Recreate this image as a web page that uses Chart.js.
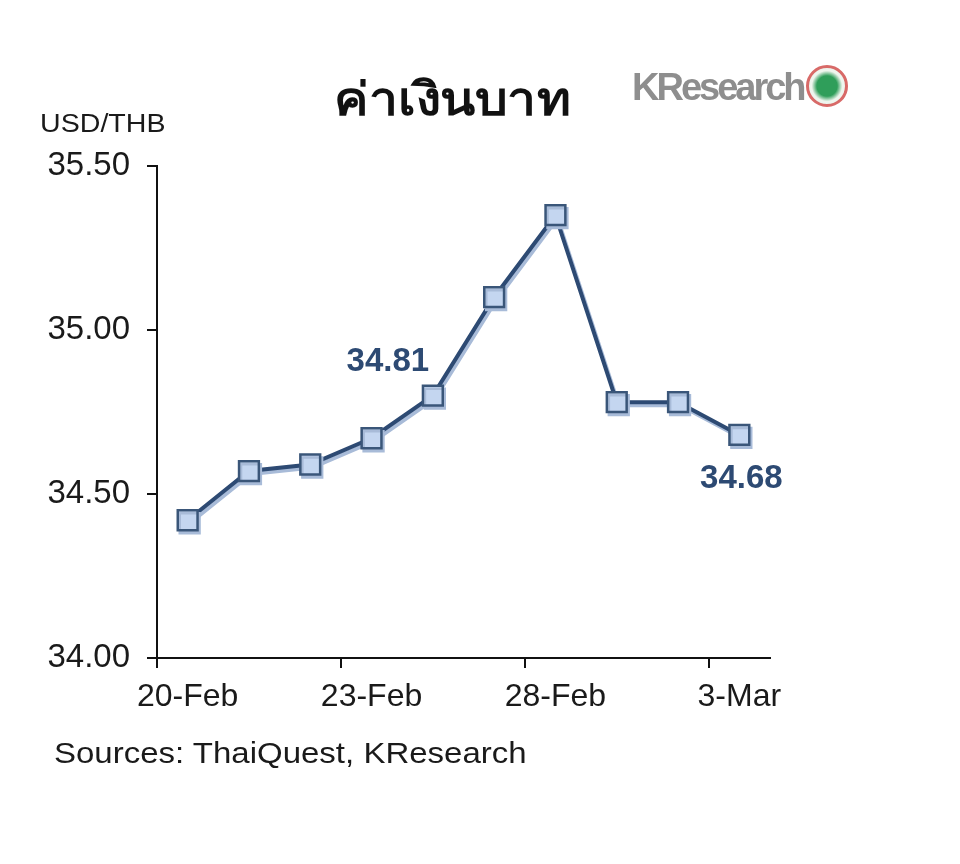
<!DOCTYPE html>
<html>
<head>
<meta charset="utf-8">
<script src="https://cdn.jsdelivr.net/npm/chart.js@4.4.0/dist/chart.umd.min.js"></script>
<style>
  html, body { margin: 0; padding: 0; background: #fff; }
  #wrap { position: relative; width: 960px; height: 864px; font-family: "Liberation Sans", Arial, sans-serif; }
  #chart { position: absolute; left: 0; top: 0; }
  .txt { position: absolute; white-space: nowrap; line-height: 1; }
  #title { left: 452px; top: 74px; font-size: 46px; font-weight: bold; color: #111; transform: translateX(-50%) scaleX(1.12); font-family: "Noto Sans", "DejaVu Sans", sans-serif; }
  #unit { left: 40px; top: 110px; font-size: 26px; color: #1a1a1a; transform: scaleX(1.1); transform-origin: left top; }
  #source { left: 54px; top: 738px; font-size: 30px; color: #1a1a1a; transform: scaleX(1.1); transform-origin: left top; }
  #logo { left: 632px; top: 65px; font-size: 38px; font-weight: bold; color: #8e8e8e; letter-spacing: -3px; }
  #logo .ic { display: inline-block; width: 42px; height: 42px; border: 3px solid #d86a68; border-radius: 50%; background: radial-gradient(circle, #2f9e5a 0, #2f9e5a 40%, #eef5ee 60%); vertical-align: -7px; margin-left: 2px; box-sizing: border-box; }
</style>
</head>
<body>
<div id="wrap">
  <canvas id="chart" width="960" height="864"></canvas>
  <div class="txt" id="title">ค่าเงินบาท</div>
  <div class="txt" id="unit">USD/THB</div>
  <div class="txt" id="logo">KResearch<span class="ic"></span></div>
  <div class="txt" id="source">Sources: ThaiQuest, KResearch</div>
</div>
<script>
const dates = ['20-Feb', '21-Feb', '22-Feb', '23-Feb', '24-Feb', '27-Feb', '28-Feb', '1-Mar', '2-Mar', '3-Mar'];
const rates = [34.42, 34.57, 34.59, 34.67, 34.80, 35.10, 35.35, 34.78, 34.78, 34.68];
const shownLabels = [0, 3, 6, 9];
const callouts = [
  { index: 4, text: '34.81', dx: -45, dy: -34 },
  { index: 9, text: '34.68', dx: 2, dy: 44 }
];

const navy = '#2d4a73';

// light shadow under the line, like the excel look
const shadowPlugin = {
  id: 'shadowLine',
  beforeDatasetDraw(chart) {
    const ctx = chart.ctx;
    ctx.save();
    ctx.shadowColor = '#a8bbd8';
    ctx.shadowOffsetX = 2;
    ctx.shadowOffsetY = 3;
    ctx.shadowBlur = 0;
  },
  afterDatasetDraw(chart) {
    chart.ctx.restore();
  }
};

const calloutPlugin = {
  id: 'callouts',
  afterDatasetsDraw(chart) {
    const ctx = chart.ctx;
    const xs = chart.scales.x, ys = chart.scales.y;
    ctx.save();
    ctx.font = 'bold 33px "Liberation Sans", Arial, sans-serif';
    ctx.fillStyle = navy;
    ctx.textAlign = 'center';
    ctx.textBaseline = 'middle';
    callouts.forEach(c => {
      const x = xs.getPixelForValue(c.index);
      const y = ys.getPixelForValue(rates[c.index]);
      ctx.fillText(c.text, x + c.dx, y + c.dy);
    });
    ctx.restore();
  }
};

new Chart(document.getElementById('chart'), {
  type: 'line',
  data: {
    labels: dates,
    datasets: [{
      data: rates,
      borderColor: navy,
      borderWidth: 4,
      pointStyle: 'rect',
      pointRadius: 14,
      pointBackgroundColor: '#c4d6f0',
      pointBorderColor: '#3a5679',
      pointBorderWidth: 2.5,
      tension: 0
    }]
  },
  options: {
    responsive: false,
    animation: false,
    events: [],
    layout: { padding: { left: 0, right: 190, top: 166, bottom: 0 } },
    plugins: { legend: { display: false }, tooltip: { enabled: false } },
    scales: {
      x: {
        offset: true,
        afterFit(scale) { scale.height = 864 - 658; },
        grid: {
          offset: true,
          drawOnChartArea: false,
          tickLength: 10,
          lineWidth: 2,
          color: ctx => (ctx.index % 3 === 0 ? '#111' : 'rgba(0,0,0,0)')
        },
        border: { display: true, color: '#111', width: 2 },
        ticks: {
          autoSkip: false,
          maxRotation: 0,
          padding: 10,
          color: '#1a1a1a',
          font: { size: 32, family: '"Liberation Sans", Arial, sans-serif' },
          callback: (v, i) => (shownLabels.includes(i) ? dates[i] : '')
        }
      },
      y: {
        min: 34,
        max: 35.5,
        afterFit(scale) { scale.width = 157; },
        grid: { drawOnChartArea: false, tickLength: 10, lineWidth: 2, color: '#111' },
        border: { display: true, color: '#111', width: 2 },
        ticks: {
          stepSize: 0.5,
          padding: 17,
          color: '#1a1a1a',
          font: { size: 33, family: '"Liberation Sans", Arial, sans-serif' },
          callback: v => v.toFixed(2)
        }
      }
    }
  },
  plugins: [shadowPlugin, calloutPlugin]
});
</script>
</body>
</html>
